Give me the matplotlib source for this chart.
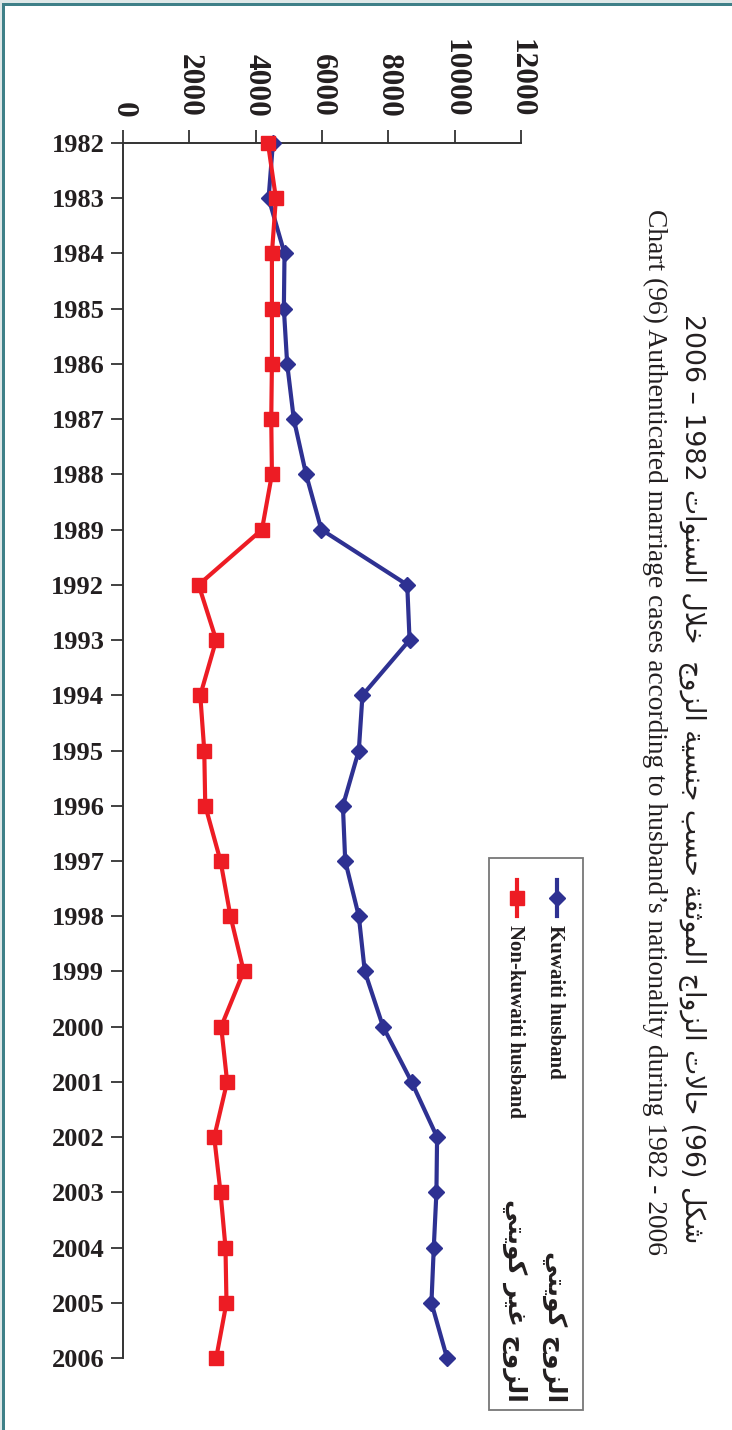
import matplotlib
matplotlib.use('Agg')
import matplotlib.pyplot as plt
from matplotlib.patches import Rectangle
from matplotlib.lines import Line2D

# ── dados ────────────────────────────────────────────────────────────────
anos = ['1982', '1983', '1984', '1985', '1986', '1987', '1988', '1989',
        '1992', '1993', '1994', '1995', '1996', '1997', '1998', '1999',
        '2000', '2001', '2002', '2003', '2004', '2005', '2006']
kuwaiti = [4520, 4390, 4870, 4850, 4950, 5150, 5520, 5980,
           8570, 8640, 7220, 7110, 6630, 6700, 7110, 7290,
           7840, 8700, 9470, 9450, 9370, 9300, 9770]
nao_kuwaiti = [4370, 4610, 4490, 4490, 4490, 4470, 4490, 4190,
               2280, 2810, 2330, 2450, 2480, 2940, 3240, 3640,
               2960, 3140, 2750, 2940, 3090, 3120, 2810]
valores_ticks = [0, 2000, 4000, 6000, 8000, 10000, 12000]

titulo_ar = 'شكل (96) حالات الزواج الموثقة حسب جنسية الزوج  خلال السنوات 1982 – 2006'
titulo_en = 'Chart (96) Authenticated marriage cases according to husband\u2019s nationality during 1982 - 2006'
leg_en = ['Kuwaiti husband', 'Non-kuwaiti husband']
leg_ar = ['الزوج كويتي', 'الزوج غير كويتي']

AZUL = '#2E3192'
VERMELHO = '#ED1C24'
TEAL = '#3f8088'

# ── formas árabes (matplotlib não faz shaping) ───────────────────────────
FORMAS = {
    'ا': (0xFE8D, 0xFE8E, None, None),
    'ب': (0xFE8F, 0xFE90, 0xFE91, 0xFE92),
    'ة': (0xFE93, 0xFE94, None, None),
    'ت': (0xFE95, 0xFE96, 0xFE97, 0xFE98),
    'ث': (0xFE99, 0xFE9A, 0xFE9B, 0xFE9C),
    'ج': (0xFE9D, 0xFE9E, 0xFE9F, 0xFEA0),
    'ح': (0xFEA1, 0xFEA2, 0xFEA3, 0xFEA4),
    'خ': (0xFEA5, 0xFEA6, 0xFEA7, 0xFEA8),
    'ر': (0xFEAD, 0xFEAE, None, None),
    'ز': (0xFEAF, 0xFEB0, None, None),
    'س': (0xFEB1, 0xFEB2, 0xFEB3, 0xFEB4),
    'ش': (0xFEB5, 0xFEB6, 0xFEB7, 0xFEB8),
    'غ': (0xFECD, 0xFECE, 0xFECF, 0xFED0),
    'ق': (0xFED5, 0xFED6, 0xFED7, 0xFED8),
    'ك': (0xFED9, 0xFEDA, 0xFEDB, 0xFEDC),
    'ل': (0xFEDD, 0xFEDE, 0xFEDF, 0xFEE0),
    'م': (0xFEE1, 0xFEE2, 0xFEE3, 0xFEE4),
    'ن': (0xFEE5, 0xFEE6, 0xFEE7, 0xFEE8),
    'و': (0xFEED, 0xFEEE, None, None),
    'ي': (0xFEF1, 0xFEF2, 0xFEF3, 0xFEF4),
    'LA': (0xFEFB, 0xFEFC, None, None),
}


def molda(palavra):
    toks = []
    i = 0
    while i < len(palavra):
        if palavra[i] == 'ل' and i + 1 < len(palavra) and palavra[i + 1] == 'ا':
            toks.append('LA')
            i += 2
        else:
            toks.append(palavra[i])
            i += 1
    if not any(t in FORMAS for t in toks):
        return palavra
    res = []
    for k, t in enumerate(toks):
        if t not in FORMAS:
            res.append(t)
            continue
        iso, fin, ini, med = FORMAS[t]
        ant = toks[k - 1] if k > 0 else None
        prox = toks[k + 1] if k + 1 < len(toks) else None
        jp = ant in FORMAS and FORMAS[ant][2] is not None
        jn = prox in FORMAS and ini is not None
        if jp and jn:
            c = med
        elif jp:
            c = fin
        elif jn:
            c = ini
        else:
            c = iso
        res.append(chr(c))
    return ''.join(reversed(res))


def rtl(texto):
    return ' '.join(molda(p) for p in reversed(texto.split(' ')))


# ── figura ───────────────────────────────────────────────────────────────
W, H = 732, 1430
fig = plt.figure(figsize=(W / 100, H / 100), dpi=100)


def fx(px):
    return px / W


def fy(py):
    return 1 - py / H


# moldura
fig.add_artist(Rectangle((0, fy(3)), 1, 3 / H, transform=fig.transFigure,
                         facecolor='#dfe8e8', edgecolor='none'))
fig.add_artist(Rectangle((0, 0), 2 / W, 1, transform=fig.transFigure,
                         facecolor='#dfe8e8', edgecolor='none'))
fig.add_artist(Rectangle((fx(2), fy(6)), 1, 3 / H, transform=fig.transFigure,
                         facecolor=TEAL, edgecolor='none'))
fig.add_artist(Rectangle((fx(2), 0), 3 / W, fy(3), transform=fig.transFigure,
                         facecolor=TEAL, edgecolor='none'))

ax = fig.add_axes([fx(123), fy(1358), (521 - 123) / W, (1358 - 143) / H])

ax.plot(kuwaiti, anos, color=AZUL, lw=3, marker='D', markersize=7.8,
        clip_on=False, zorder=3)
ax.plot(nao_kuwaiti, anos, color=VERMELHO, lw=3, marker='s', markersize=9.5,
        clip_on=False, zorder=4)

ax.set_xlim(0, 12000)
ax.set_ylim(len(anos) - 1, 0)
ax.set_xticks(valores_ticks)
ax.set_xticklabels([str(v) for v in valores_ticks])
ax.xaxis.tick_top()

for s in ['right', 'bottom']:
    ax.spines[s].set_visible(False)
for s in ['left', 'top']:
    ax.spines[s].set_color('#333333')
    ax.spines[s].set_linewidth(1.4)

ax.tick_params(axis='x', top=True, bottom=False, direction='out', length=9.5,
               width=1.3, color='#333333', pad=9, labelrotation=270)
ax.tick_params(axis='y', left=True, direction='out', length=8.5, width=1.3,
               color='#333333', pad=5)
for lab in ax.get_xticklabels():
    lab.set_fontfamily('Liberation Serif')
    lab.set_fontweight('bold')
    lab.set_fontsize(22.5)
    lab.set_color('#231f20')
for lab in ax.get_yticklabels():
    lab.set_fontfamily('Liberation Serif')
    lab.set_fontweight('bold')
    lab.set_fontsize(19)
    lab.set_color('#231f20')

# títulos (rotacionados)
fig.text(fx(692), fy(779), rtl(titulo_ar), rotation=270, ha='center', va='center',
         fontsize=19.3, family='DejaVu Sans', color='#231f20')
fig.text(fx(655), fy(732), titulo_en, rotation=270, ha='center', va='center',
         fontsize=19.8, family='Liberation Serif', color='#231f20')

# legenda manual
fig.add_artist(Rectangle((fx(489), fy(1410)), (583 - 489) / W, (1410 - 858) / H,
                         transform=fig.transFigure, facecolor='white',
                         edgecolor='#777777', lw=1.3))
for xc, cor, mk, ms, en, ar in [(557, AZUL, 'D', 7.8, leg_en[0], leg_ar[0]),
                                (517, VERMELHO, 's', 9.5, leg_en[1], leg_ar[1])]:
    fig.add_artist(Line2D([fx(xc), fx(xc)], [fy(880), fy(916)], color=cor, lw=3,
                          transform=fig.transFigure))
    fig.add_artist(Line2D([fx(xc)], [fy(898)], color=cor, marker=mk, markersize=ms,
                          transform=fig.transFigure))
    fig.text(fx(xc - 2), fy(925), en, rotation=270, ha='center', va='top',
             fontsize=15, family='Liberation Serif', weight='bold', color='#231f20')
    fig.text(fx(xc - 2), fy(1402), rtl(ar), rotation=270, ha='center', va='bottom',
             fontsize=18, family='DejaVu Sans', weight='bold', color='#231f20')

plt.savefig('out.png', dpi=100)
plt.close()
